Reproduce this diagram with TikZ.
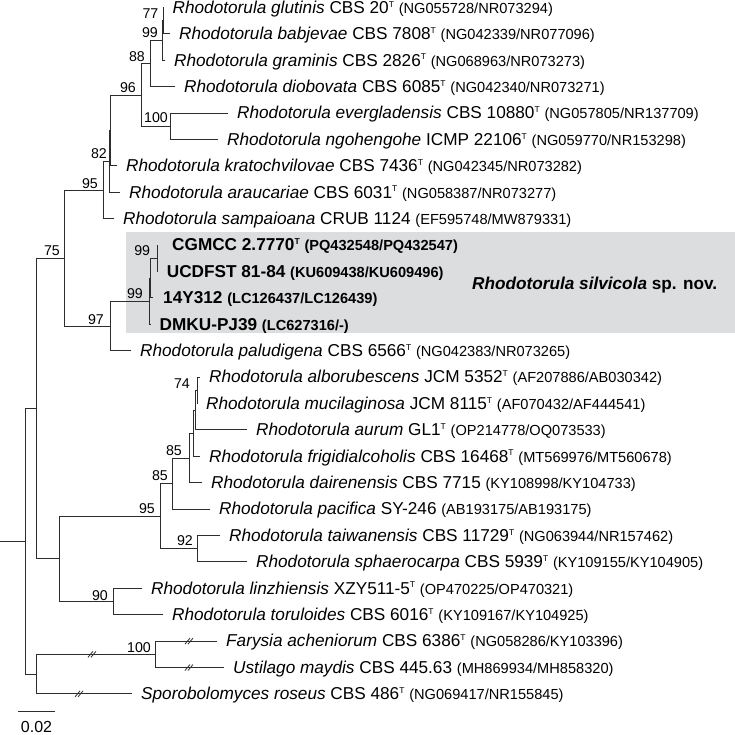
\documentclass[tikz,border=0pt]{standalone}
\usepackage{fontspec}
\setmainfont{Liberation Sans}
\newcommand{\mainsz}{\fontsize{17.2pt}{20pt}\selectfont}
\newcommand{\accsz}{\fontsize{14.6pt}{17pt}\selectfont}
\newcommand{\bssz}{\fontsize{14.2pt}{16pt}\selectfont}
\newcommand{\typ}{\raisebox{6.2pt}{\fontsize{8.5pt}{9pt}\selectfont T}}
\newcommand{\acc}[1]{{\accsz #1}}
\definecolor{linec}{RGB}{45,45,45}
\definecolor{boxc}{RGB}{220,221,223}
\begin{document}
\begin{tikzpicture}[x=1pt,y=-1pt,
  tx/.style={anchor=base west,inner sep=0pt,font=\mainsz,text=black},
  bs/.style={anchor=base east,inner sep=0pt,font=\bssz,text=black},
  br/.style={draw=linec,line width=0.9pt,line cap=rect},
  brk/.style={draw=linec,line width=0.8pt}]
\useasboundingbox (0,0) rectangle (735,735);
% grey box
\fill[boxc] (126,232) rectangle (735,333);
% leaf end points
\coordinate (L1) at (163.5,7.5);
\coordinate (L2) at (170,33.9);
\coordinate (L3) at (165,60.3);
\coordinate (L4) at (175,86.7);
\coordinate (L5) at (228,113.1);
\coordinate (L6) at (218,139.5);
\coordinate (L7) at (117,165.9);
\coordinate (L8) at (120,192.3);
\coordinate (L9) at (114,218.7);
\coordinate (L10) at (157.3,245.1);
\coordinate (L11) at (157.3,271.5);
\coordinate (L12) at (153,297.9);
\coordinate (L13) at (150,324.3);
\coordinate (L14) at (131,350.7);
\coordinate (L15) at (200,377.1);
\coordinate (L16) at (197,403.5);
\coordinate (L17) at (247,429.9);
\coordinate (L18) at (200,456.3);
\coordinate (L19) at (202,482.7);
\coordinate (L20) at (210,509.1);
\coordinate (L21) at (220,535.5);
\coordinate (L22) at (247,561.9);
\coordinate (L23) at (142,588.3);
\coordinate (L24) at (163,614.7);
\coordinate (L25) at (217,641.1);
\coordinate (L26) at (224,667.5);
\coordinate (L27) at (132,693.9);
% internal nodes
\coordinate (n77) at (163.5,20.7);
\coordinate (n99a) at (162,40.5);
\coordinate (n88) at (150,63.6);
\coordinate (n100a) at (170,126.3);
\coordinate (n96) at (141,95.0);
\coordinate (nK) at (110.5,130.4);
\coordinate (n82) at (109,161.4);
\coordinate (n95a) at (103,190.0);
\coordinate (nTop) at (157.3,258.3);
\coordinate (nP2) at (150,278.1);
\coordinate (nQ) at (149.5,301.2);
\coordinate (n97) at (110,326.0);
\coordinate (n75) at (64,258.0);
\coordinate (n74) at (197,390.3);
\coordinate (nM1) at (195,410.1);
\coordinate (nM2) at (193,433.2);
\coordinate (n85u) at (189,458.0);
\coordinate (n85l) at (172,483.5);
\coordinate (n92) at (197,548.7);
\coordinate (n95b) at (160,516.1);
\coordinate (n90) at (113,601.5);
\coordinate (nS) at (59,558.8);
\coordinate (nR1) at (36.5,408.4);
\coordinate (n100b) at (155.5,654.3);
\coordinate (nO) at (36.5,674.1);
\coordinate (nRoot) at (25.5,541.3);
\coordinate (rt) at (0.5,541.3);
% branches
\draw[br] (n77) |- (L1) (n77) |- (L2);
\draw[br] (n99a) |- (n77) (n99a) |- (L3);
\draw[br] (n88) |- (n99a) (n88) |- (L4);
\draw[br] (n100a) |- (L5) (n100a) |- (L6);
\draw[br] (n96) |- (n88) (n96) |- (n100a);
\draw[br] (nK) |- (n96) (nK) |- (L7);
\draw[br] (n82) |- (nK) (n82) |- (L8);
\draw[br] (n95a) |- (n82) (n95a) |- (L9);
\draw[br] (nTop) |- (L10) (nTop) |- (L11);
\draw[br] (nP2) |- (nTop) (nP2) |- (L12);
\draw[br] (nQ) |- (nP2) (nQ) |- (L13);
\draw[br] (n97) |- (nQ) (n97) |- (L14);
\draw[br] (n75) |- (n95a) (n75) |- (n97);
\draw[br] (n74) |- (L15) (n74) |- (L16);
\draw[br] (nM1) |- (n74) (nM1) |- (L17);
\draw[br] (nM2) |- (nM1) (nM2) |- (L18);
\draw[br] (n85u) |- (nM2) (n85u) |- (L19);
\draw[br] (n85l) |- (n85u) (n85l) |- (L20);
\draw[br] (n92) |- (L21) (n92) |- (L22);
\draw[br] (n95b) |- (n85l) (n95b) |- (n92);
\draw[br] (n90) |- (L23) (n90) |- (L24);
\draw[br] (nS) |- (n95b) (nS) |- (n90);
\draw[br] (nR1) |- (n75) (nR1) |- (nS);
\draw[br] (n100b) |- (L25) (n100b) |- (L26);
\draw[br] (nO) |- (n100b) (nO) |- (L27);
\draw[br] (nRoot) |- (nR1) (nRoot) |- (nO);
\draw[br] (rt) -- (nRoot);
% break marks
\coordinate (k1) at (93,654.3);
\coordinate (k2) at (190,641.1);
\coordinate (k3) at (190,667.5);
\coordinate (k4) at (80,693.9);
\foreach \p in {k1,k2,k3,k4}{
  \draw[brk] ([xshift=-5pt,yshift=-3pt]\p) -- ([xshift=0pt,yshift=3pt]\p)
             ([xshift=-2pt,yshift=-3pt]\p) -- ([xshift=3pt,yshift=3pt]\p);
}
% bootstrap labels
\node[bs] (b77) at ([xshift=-5pt,yshift=2.5pt]n77) {77};
\node[bs] (b99a) at ([xshift=-4pt,yshift=2.5pt]n99a) {99};
\node[bs] (b88) at ([xshift=-5pt,yshift=2pt]n88) {88};
\node[bs] (b96) at ([xshift=-5pt,yshift=2pt]n96) {96};
\node[bs] (b100a) at ([xshift=-2pt,yshift=3.5pt]n100a) {100};
\node[bs] (b82) at ([xshift=-2pt,yshift=3pt]n82) {82};
\node[bs] (b95a) at ([xshift=-5pt,yshift=1.5pt]n95a) {95};
\node[bs] (b75) at ([xshift=-4pt,yshift=3pt]n75) {75};
\node[bs] (b99t) at ([xshift=-7pt,yshift=3pt]nTop) {99};
\node[bs] (b99q) at ([xshift=-6.5pt,yshift=2.5pt]nQ) {99};
\node[bs] (b97) at ([xshift=-6pt,yshift=2pt]n97) {97};
\node[bs] (b74) at ([xshift=-7pt,yshift=2pt]n74) {74};
\node[bs] (b85u) at ([xshift=-7pt,yshift=3pt]n85u) {85};
\node[bs] (b85l) at ([xshift=-4pt,yshift=3.5pt]n85l) {85};
\node[bs] (b95b) at ([xshift=-5pt,yshift=3pt]n95b) {95};
\node[bs] (b92) at ([xshift=-4pt,yshift=3.5pt]n92) {92};
\node[bs] (b90) at ([xshift=-5pt,yshift=1.5pt]n90) {90};
\node[bs] (b100b) at ([xshift=-4.5pt,yshift=2pt]n100b) {100};
% leaf labels
\node[tx] (T1) at ([xshift=9pt,yshift=-5.8pt]L1) {\textit{Rhodotorula glutinis} CBS 20\typ\ \acc{(NG055728/NR073294)}};
\node[tx] (T2) at ([xshift=9pt,yshift=-5.8pt]L2) {\textit{Rhodotorula babjevae} CBS 7808\typ\ \acc{(NG042339/NR077096)}};
\node[tx] (T3) at ([xshift=9pt,yshift=-5.8pt]L3) {\textit{Rhodotorula graminis} CBS 2826\typ\ \acc{(NG068963/NR073273)}};
\node[tx] (T4) at ([xshift=9pt,yshift=-5.8pt]L4) {\textit{Rhodotorula diobovata} CBS 6085\typ\ \acc{(NG042340/NR073271)}};
\node[tx] (T5) at ([xshift=9pt,yshift=-5.8pt]L5) {\textit{Rhodotorula evergladensis} CBS 10880\typ\ \acc{(NG057805/NR137709)}};
\node[tx] (T6) at ([xshift=9pt,yshift=-5.8pt]L6) {\textit{Rhodotorula ngohengohe} ICMP 22106\typ\ \acc{(NG059770/NR153298)}};
\node[tx] (T7) at ([xshift=9pt,yshift=-5.8pt]L7) {\textit{Rhodotorula kratochvilovae} CBS 7436\typ\ \acc{(NG042345/NR073282)}};
\node[tx] (T8) at ([xshift=9pt,yshift=-5.8pt]L8) {\textit{Rhodotorula araucariae} CBS 6031\typ\ \acc{(NG058387/NR073277)}};
\node[tx] (T9) at ([xshift=9pt,yshift=-5.8pt]L9) {\textit{Rhodotorula sampaioana} CRUB 1124 \acc{(EF595748/MW879331)}};
\node[tx,font=\mainsz\bfseries] (T10) at ([xshift=14.7pt,yshift=-5.8pt]L10) {CGMCC 2.7770\typ\ \acc{(PQ432548/PQ432547)}};
\node[tx,font=\mainsz\bfseries] (T11) at ([xshift=9.4pt,yshift=-5.8pt]L11) {UCDFST 81-84 \acc{(KU609438/KU609496)}};
\node[tx,font=\mainsz\bfseries] (T12) at ([xshift=10pt,yshift=-5.8pt]L12) {14Y312 \acc{(LC126437/LC126439)}};
\node[tx,font=\mainsz\bfseries] (T13) at ([xshift=9.5pt,yshift=-5.8pt]L13) {DMKU-PJ39 \acc{(LC627316/-)}};
\node[tx,font=\mainsz\bfseries] (Tsp) at (472,289.5) {\textit{Rhodotorula silvicola} sp. nov.};
\node[tx] (T14) at ([xshift=9pt,yshift=-5.8pt]L14) {\textit{Rhodotorula paludigena} CBS 6566\typ\ \acc{(NG042383/NR073265)}};
\node[tx] (T15) at ([xshift=9pt,yshift=-5.8pt]L15) {\textit{Rhodotorula alborubescens} JCM 5352\typ\ \acc{(AF207886/AB030342)}};
\node[tx] (T16) at ([xshift=9pt,yshift=-5.8pt]L16) {\textit{Rhodotorula mucilaginosa} JCM 8115\typ\ \acc{(AF070432/AF444541)}};
\node[tx] (T17) at ([xshift=9pt,yshift=-5.8pt]L17) {\textit{Rhodotorula aurum} GL1\typ\ \acc{(OP214778/OQ073533)}};
\node[tx] (T18) at ([xshift=9pt,yshift=-5.8pt]L18) {\textit{Rhodotorula frigidialcoholis} CBS 16468\typ\ \acc{(MT569976/MT560678)}};
\node[tx] (T19) at ([xshift=9pt,yshift=-5.8pt]L19) {\textit{Rhodotorula dairenensis} CBS 7715 \acc{(KY108998/KY104733)}};
\node[tx] (T20) at ([xshift=9pt,yshift=-5.8pt]L20) {\textit{Rhodotorula pacifica} SY-246 \acc{(AB193175/AB193175)}};
\node[tx] (T21) at ([xshift=9pt,yshift=-5.8pt]L21) {\textit{Rhodotorula taiwanensis} CBS 11729\typ\ \acc{(NG063944/NR157462)}};
\node[tx] (T22) at ([xshift=9pt,yshift=-5.8pt]L22) {\textit{Rhodotorula sphaerocarpa} CBS 5939\typ\ \acc{(KY109155/KY104905)}};
\node[tx] (T23) at ([xshift=9pt,yshift=-5.8pt]L23) {\textit{Rhodotorula linzhiensis} XZY511-5\typ\ \acc{(OP470225/OP470321)}};
\node[tx] (T24) at ([xshift=9pt,yshift=-5.8pt]L24) {\textit{Rhodotorula toruloides} CBS 6016\typ\ \acc{(KY109167/KY104925)}};
\node[tx] (T25) at ([xshift=9pt,yshift=-5.8pt]L25) {\textit{Farysia acheniorum} CBS 6386\typ\ \acc{(NG058286/KY103396)}};
\node[tx] (T26) at ([xshift=9pt,yshift=-5.8pt]L26) {\textit{Ustilago maydis} CBS 445.63 \acc{(MH869934/MH858320)}};
\node[tx] (T27) at ([xshift=9pt,yshift=-5.8pt]L27) {\textit{Sporobolomyces roseus} CBS 486\typ\ \acc{(NG069417/NR155845)}};
% scale bar
\coordinate (sb1) at (18,711);
\coordinate (sb2) at (54.5,711);
\draw[br,line cap=butt] (sb1) -- (sb2);
\node[anchor=base,inner sep=0pt,font=\fontsize{16pt}{18pt}\selectfont] (sbl) at (36.5,732.3) {0.02};
\end{tikzpicture}
\end{document}
